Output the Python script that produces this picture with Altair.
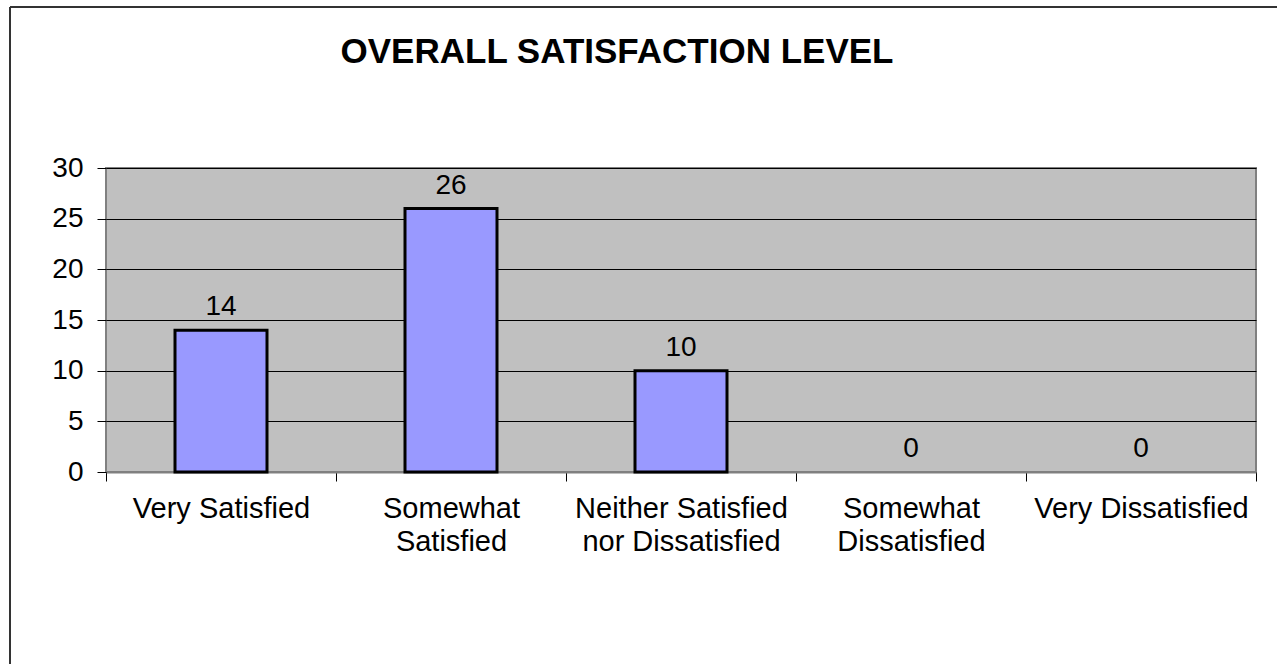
import json
import altair as alt
import pandas as pd

# ---- data ----
categories = [
    "Very Satisfied",
    "Somewhat Satisfied",
    "Neither Satisfied nor Dissatisfied",
    "Somewhat Dissatisfied",
    "Very Dissatisfied",
]
values = [14, 26, 10, 0, 0]
label_lines = [
    ["Very Satisfied"],
    ["Somewhat", "Satisfied"],
    ["Neither Satisfied", "nor Dissatisfied"],
    ["Somewhat", "Dissatisfied"],
    ["Very Dissatisfied"],
]
y_ticks = [0, 5, 10, 15, 20, 25, 30]
title_text = "OVERALL SATISFACTION LEVEL"

df = pd.DataFrame({"category": categories, "value": values})
label_map = json.dumps(dict(zip(categories, label_lines)))

FONT = "Liberation Sans"
PLOT_W, PLOT_H = 1150, 304
PAD_L, PAD_T = 106, 168

x_enc = alt.X(
    "category:N",
    sort=categories,
    scale=alt.Scale(paddingInner=0, paddingOuter=0),
    axis=alt.Axis(
        title=None,
        labelAngle=0,
        labelExpr=f"{label_map}[datum.label]",
        labelFont=FONT,
        labelFontSize=29,
        labelColor="black",
        labelBaseline="top",
        labelLineHeight=33,
        labelPadding=13,
        tickBand="extent",
        tickSize=9,
        tickColor="#000000",
        tickWidth=1,
        domainColor="#808080",
        domainWidth=2,
        labelLimit=400,
    ),
)
y_enc = alt.Y(
    "value:Q",
    scale=alt.Scale(domain=[0, 30], nice=False),
    axis=alt.Axis(
        title=None,
        values=y_ticks,
        grid=True,
        gridColor="#000000",
        gridWidth=1,
        domain=False,
        tickSize=9,
        tickColor="#000000",
        labelFont=FONT,
        labelFontSize=28,
        labelColor="black",
        labelPadding=14,
    ),
)

bars = alt.Chart(df).transform_filter("datum.value > 0").mark_bar(
    width=alt.RelativeBandSize(0.4),
    color="#9999FF",
    stroke="#000000",
    strokeWidth=3,
).encode(x=x_enc, y=y_enc)

labels = alt.Chart(df).mark_text(
    font=FONT, fontSize=28, baseline="alphabetic", dy=-15, color="black"
).encode(
    x=alt.X("category:N", sort=categories),
    y="value:Q",
    text="value:Q",
)

frame_df = pd.DataFrame({"k": [0]})
left_border = alt.Chart(frame_df).mark_rule(color="#333333", strokeWidth=2).encode(
    x=alt.value(10 - PAD_L), y=alt.value(7 - PAD_T), y2=alt.value(700 - PAD_T)
)
top_border = alt.Chart(frame_df).mark_rule(color="#333333", strokeWidth=2).encode(
    x=alt.value(10 - PAD_L), x2=alt.value(1300 - PAD_L), y=alt.value(7 - PAD_T)
)
title = alt.Chart(pd.DataFrame({"t": [title_text]})).mark_text(
    font=FONT, fontSize=35, fontWeight="bold", color="black",
    align="center", baseline="middle",
).encode(
    text="t:N", x=alt.value(617 - PAD_L), y=alt.value(52 - PAD_T)
)

chart = alt.layer(bars, labels, left_border, top_border, title).properties(
    width=PLOT_W,
    height=PLOT_H,
    autosize=alt.AutoSizeParams(type="none"),
    padding={"left": PAD_L, "top": PAD_T, "right": 1277 - PAD_L - PLOT_W, "bottom": 664 - PAD_T - PLOT_H},
    background="white",
).configure_view(
    fill="#C0C0C0",
    stroke="#808080",
    strokeWidth=2,
)

chart.save("out.html", embed_options={"renderer": "svg", "actions": False})
